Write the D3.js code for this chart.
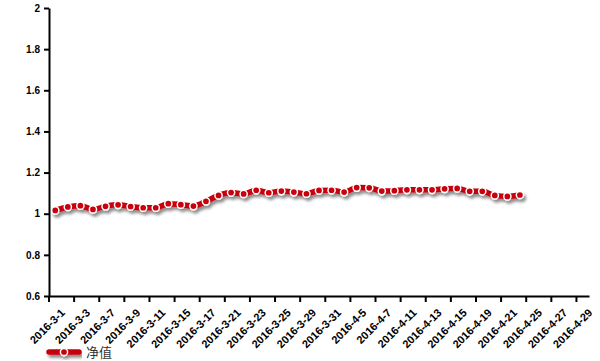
<!DOCTYPE html>
<html>
<head>
<meta charset="utf-8">
<script src="https://cdn.jsdelivr.net/npm/d3@7"></script>
<style>
    body { margin: 0; background: #fff; }
    svg { display: block; }
    .axis text { font-family: "Liberation Sans", Arial, sans-serif; font-weight: bold; font-size: 10px; fill: #000; }
    .axis path, .axis line { stroke: #000; stroke-width: 2px; }
    .xaxis text { font-size: 11px; }
</style>
</head>
<body>
<svg id="chart"></svg>
<script>
// trading days, March - April 2016
const dates = ['2016-3-1','2016-3-2','2016-3-3','2016-3-4','2016-3-7','2016-3-8','2016-3-9','2016-3-10',
    '2016-3-11','2016-3-14','2016-3-15','2016-3-16','2016-3-17','2016-3-18','2016-3-21','2016-3-22',
    '2016-3-23','2016-3-24','2016-3-25','2016-3-28','2016-3-29','2016-3-30','2016-3-31','2016-4-1',
    '2016-4-5','2016-4-6','2016-4-7','2016-4-8','2016-4-11','2016-4-12','2016-4-13','2016-4-14',
    '2016-4-15','2016-4-18','2016-4-19','2016-4-20','2016-4-21','2016-4-22','2016-4-25','2016-4-26',
    '2016-4-27','2016-4-28','2016-4-29'];

const netValue = [1.016, 1.033, 1.039, 1.021, 1.036, 1.043, 1.035, 1.029,
    1.029, 1.049, 1.044, 1.037, 1.060, 1.089, 1.103, 1.096,
    1.114, 1.102, 1.110, 1.105, 1.097, 1.113, 1.114, 1.105,
    1.127, 1.126, 1.110, 1.112, 1.116, 1.116, 1.116, 1.121,
    1.123, 1.109, 1.109, 1.089, 1.084, 1.091];

const yTicks = [0.6, 0.8, 1, 1.2, 1.4, 1.6, 1.8, 2];
const seriesName = '净值';

const width = 600, height = 361;
const margin = {top: 8, right: 11, bottom: 65, left: 49};
const innerW = width - margin.left - margin.right;
const innerH = height - margin.top - margin.bottom;
const red = '#c8000a';

const svg = d3.select('#chart').attr('width', width).attr('height', height);

const defs = svg.append('defs');
const shadow = defs.append('filter').attr('id', 'shadow')
    .attr('x', '-10%').attr('y', '-50%').attr('width', '120%').attr('height', '200%');
shadow.append('feDropShadow')
    .attr('dx', 2).attr('dy', 3).attr('stdDeviation', 1.8)
    .attr('flood-color', '#000').attr('flood-opacity', 0.45);

const chart = svg.append('g').attr('transform', `translate(${margin.left},${margin.top})`);

const x = d3.scaleBand().domain(dates).range([0, innerW]).padding(0);
const bw = x.bandwidth();
const y = d3.scaleLinear().domain([0.6, 2]).range([innerH, 0]);

// x axis: labels every other category, ticks on band boundaries
const xAxis = d3.axisBottom(x)
    .tickValues(dates.filter((d, i) => i % 2 === 0))
    .tickSize(6).tickSizeOuter(0);
const xg = chart.append('g').attr('class', 'axis xaxis')
    .attr('transform', `translate(0,${innerH})`)
    .call(xAxis);
xg.selectAll('.tick line').attr('transform', `translate(${-bw / 2},0)`);
xg.selectAll('.tick text')
    .attr('text-anchor', 'end')
    .attr('dx', 0).attr('dy', 0)
    .attr('transform', 'translate(4,11) rotate(-45)');

const yAxis = d3.axisLeft(y).tickValues(yTicks).tickFormat(d3.format('~g'))
    .tickSize(5).tickSizeOuter(0);
const yg = chart.append('g').attr('class', 'axis').call(yAxis);
yg.selectAll('.tick text').attr('x', -9);

// series
const pts = netValue.map((v, i) => [x(dates[i]) + bw / 2, y(v)]);
const line = d3.line().curve(d3.curveMonotoneX);

const series = chart.append('g').attr('filter', 'url(#shadow)');
series.append('path')
    .attr('d', line(pts))
    .attr('fill', 'none')
    .attr('stroke', red)
    .attr('stroke-width', 5.5)
    .attr('stroke-linejoin', 'round');
series.selectAll('circle')
    .data(pts)
    .join('circle')
    .attr('cx', d => d[0])
    .attr('cy', d => d[1])
    .attr('r', 3.6)
    .attr('fill', red)
    .attr('stroke', '#fff')
    .attr('stroke-width', 1.5);

// legend
const lg = svg.append('g').attr('transform', 'translate(49,352)');
const lsym = lg.append('g').attr('filter', 'url(#shadow)');
lsym.append('line').attr('x1', 0).attr('x2', 30).attr('y1', 0).attr('y2', 0)
    .attr('stroke', red).attr('stroke-width', 5.5).attr('stroke-linecap', 'round');
lsym.append('circle').attr('cx', 15).attr('cy', 0).attr('r', 3.6)
    .attr('fill', red).attr('stroke', '#fff').attr('stroke-width', 1.5);
lg.append('text').attr('x', 37).attr('y', 5)
    .attr('font-family', '"Noto Sans CJK SC", sans-serif')
    .attr('font-size', 13).attr('fill', '#333')
    .text(seriesName);
</script>
</body>
</html>
